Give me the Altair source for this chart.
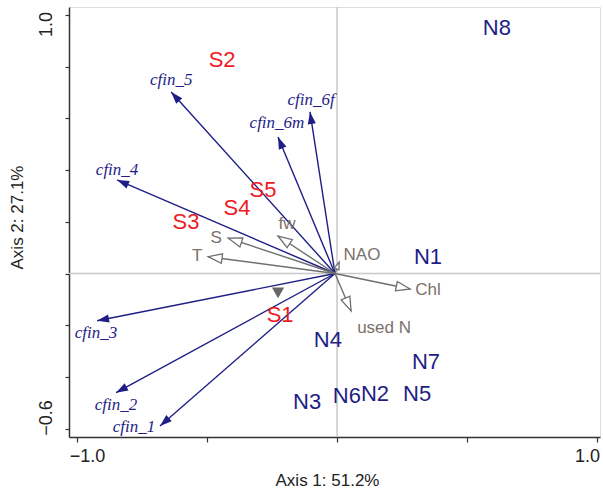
import altair as alt
import numpy as np
import pandas as pd

# Ordination axes extent and tick positions
X_DOMAIN = [-1.031, 1.0115]
Y_DOMAIN = [-0.6325, 1.031]
X_TICKS = [-1.0, -0.5, 0.0, 0.5, 1.0]
Y_TICKS = [-0.6, -0.4, -0.2, 0.0, 0.2, 0.4, 0.6, 0.8, 1.0]
X_TITLE = "Axis 1: 51.2%"
Y_TITLE = "Axis 2: 27.1%"

# Centre of the biplot, where all vectors start
ORIGIN_X = -0.008
ORIGIN_Y = 0.0

# Species vectors (C. finmarchicus stages)
species = ["cfin_1", "cfin_2", "cfin_3", "cfin_4", "cfin_5", "cfin_6m", "cfin_6f"]
species_x = [-0.681, -0.850, -0.923, -0.846, -0.638, -0.227, -0.104]
species_y = [-0.590, -0.461, -0.183, 0.362, 0.702, 0.528, 0.625]
species_label_x = [-0.781, -0.850, -0.927, -0.846, -0.638, -0.231, -0.100]
species_label_y = [-0.594, -0.509, -0.230, 0.400, 0.749, 0.582, 0.671]

# Environmental vectors
env = ["T", "S", "fw", "NAO", "Chl", "used N"]
env_x = [-0.496, -0.419, -0.227, 0.008, 0.281, 0.054]
env_y = [0.065, 0.137, 0.145, 0.044, -0.060, -0.145]
env_label_x = [-0.538, -0.465, -0.192, 0.096, 0.350, 0.181]
env_label_y = [0.068, 0.137, 0.191, 0.072, -0.064, -0.211]

# Sample scores
sites = ["S1", "S2", "S3", "S4", "S5", "N1", "N2", "N3", "N4", "N5", "N6", "N7", "N8"]
site_x = [-0.219, -0.442, -0.581, -0.385, -0.285, 0.350, 0.146, -0.115, -0.035, 0.308, 0.038, 0.342, 0.615]
site_y = [-0.161, 0.826, 0.199, 0.253, 0.323, 0.064, -0.466, -0.497, -0.257, -0.466, -0.474, -0.342, 0.950]
site_region = ["South"] * 5 + ["North"] * 8

# Group centroid marker
centroid_x = [-0.227]
centroid_y = [-0.075]

W, H = 531, 430
PX_X = W / (X_DOMAIN[1] - X_DOMAIN[0])
PX_Y = H / (Y_DOMAIN[1] - Y_DOMAIN[0])

NAVY = "#1e1e86"
RED = "#ee1c25"
GREY_LINE = "#6f6f6f"
GREY_TEXT = "#7a716a"
SANS = "Liberation Sans"
SERIF = "Liberation Serif"

# Arrowhead with its tip on the anchor point, pointing up before rotation
HEAD = "M0,0 L-0.34,1 L0.34,1 Z"


def vectors(names, xs, ys, lx, ly, head_len):
    df = pd.DataFrame({"name": names, "x": xs, "y": ys, "lx": lx, "ly": ly})
    df["x0"] = ORIGIN_X
    df["y0"] = ORIGIN_Y
    dxp = (df["x"] - ORIGIN_X) * PX_X
    dyp = (df["y"] - ORIGIN_Y) * PX_Y
    df["ang"] = (np.degrees(np.arctan2(dxp, dyp)) + 360) % 360
    length = np.hypot(dxp, dyp)
    df["hsize"] = (2 * np.minimum(head_len, 0.6 * length)) ** 2
    return df


sp = vectors(species, species_x, species_y, species_label_x, species_label_y, 12)
ev = vectors(env, env_x, env_y, env_label_x, env_label_y, 14)
st = pd.DataFrame({"name": sites, "x": site_x, "y": site_y, "region": site_region})
ct = pd.DataFrame({"x": centroid_x, "y": centroid_y})
zero = pd.DataFrame({"v": [0.0]})

xs = alt.Scale(domain=X_DOMAIN, nice=False, zero=False)
ys = alt.Scale(domain=Y_DOMAIN, nice=False, zero=False)

x_axis = alt.Axis(
    values=X_TICKS,
    labelExpr="datum.value == 1 || datum.value == -1 ? format(datum.value, '.1f') : ''",
    labelOffset={"condition": {"test": "datum.value < 0", "value": 10}, "value": -10},
    grid=False, domainColor="#333333", domainWidth=1.5, tickColor="#333333",
    tickSize=5, tickWidth=1.2, labelFont=SANS, labelFontSize=18, labelColor="#222222",
    labelPadding=5, title=X_TITLE, titleFont=SANS, titleFontSize=17,
    titleFontWeight="normal", titleColor="#222222", titleX=258, titleY=43,
    titleBaseline="middle", titleAlign="center",
)
y_axis = alt.Axis(
    values=Y_TICKS,
    labelExpr="datum.value == 1 || datum.value == -0.6 ? format(datum.value, '.1f') : ''",
    labelOffset={"condition": {"test": "datum.value < 0", "value": -11}, "value": 9},
    labelAngle=270, labelAlign="center", labelBaseline="bottom",
    grid=False, domainColor="#333333", domainWidth=1.5, tickColor="#333333",
    tickSize=4, tickWidth=1.2, labelFont=SANS, labelFontSize=18, labelColor="#222222",
    labelPadding=10, title=Y_TITLE, titleFont=SANS, titleFontSize=17,
    titleFontWeight="normal", titleColor="#222222", titleX=-52, titleY=210,
    titleAngle=270, titleBaseline="middle", titleAlign="center",
)


def X(field):
    return alt.X(field, type="quantitative", scale=xs, axis=x_axis)


def Y(field):
    return alt.Y(field, type="quantitative", scale=ys, axis=y_axis)


vline = alt.Chart(zero).mark_rule(color="#c8c8c8", strokeWidth=1.5).encode(x=X("v"))
hline = alt.Chart(zero).mark_rule(color="#c8c8c8", strokeWidth=1.5).encode(y=Y("v"))

sp_lines = alt.Chart(sp).mark_rule(color=NAVY, strokeWidth=1.4).encode(
    x=X("x0"), y=Y("y0"), x2="x", y2="y"
)
sp_heads = alt.Chart(sp).mark_point(shape=HEAD, filled=True, color=NAVY, opacity=1).encode(
    x=X("x"), y=Y("y"),
    angle=alt.Angle("ang:Q", scale=None),
    size=alt.Size("hsize:Q", scale=None),
)
sp_text = alt.Chart(sp).mark_text(
    font=SERIF, fontStyle="italic", fontSize=17, color=NAVY, baseline="middle"
).encode(x=X("lx"), y=Y("ly"), text="name:N")

ev_lines = alt.Chart(ev).mark_rule(color=GREY_LINE, strokeWidth=1.4).encode(
    x=X("x0"), y=Y("y0"), x2="x", y2="y"
)
ev_heads = alt.Chart(ev).mark_point(
    shape=HEAD, filled=True, fill="white", stroke=GREY_LINE, strokeWidth=1.3, opacity=1
).encode(
    x=X("x"), y=Y("y"),
    angle=alt.Angle("ang:Q", scale=None),
    size=alt.Size("hsize:Q", scale=None),
)
ev_text = alt.Chart(ev).mark_text(
    font=SANS, fontSize=17, color=GREY_TEXT, baseline="middle"
).encode(x=X("lx"), y=Y("ly"), text="name:N")

centroid = alt.Chart(ct).mark_point(
    shape="triangle-down", filled=True, color="#666666", size=150, opacity=1
).encode(x=X("x"), y=Y("y"))

site_text = alt.Chart(st).mark_text(font=SANS, fontSize=22, baseline="middle").encode(
    x=X("x"), y=Y("y"), text="name:N",
    color=alt.Color("region:N", scale=alt.Scale(domain=["South", "North"], range=[RED, NAVY]), legend=None),
)

chart = alt.layer(
    vline, hline, sp_lines, ev_lines, sp_heads, ev_heads, centroid, ev_text, sp_text, site_text
).properties(
    width=W, height=H,
    autosize=alt.AutoSizeParams(type="none"),
    padding={"left": 69, "top": 7, "right": 2, "bottom": 55},
).configure_view(stroke="#666666", strokeWidth=1.3).configure(background="white")

chart.save("out.html", embed_options={"renderer": "svg", "actions": False})
